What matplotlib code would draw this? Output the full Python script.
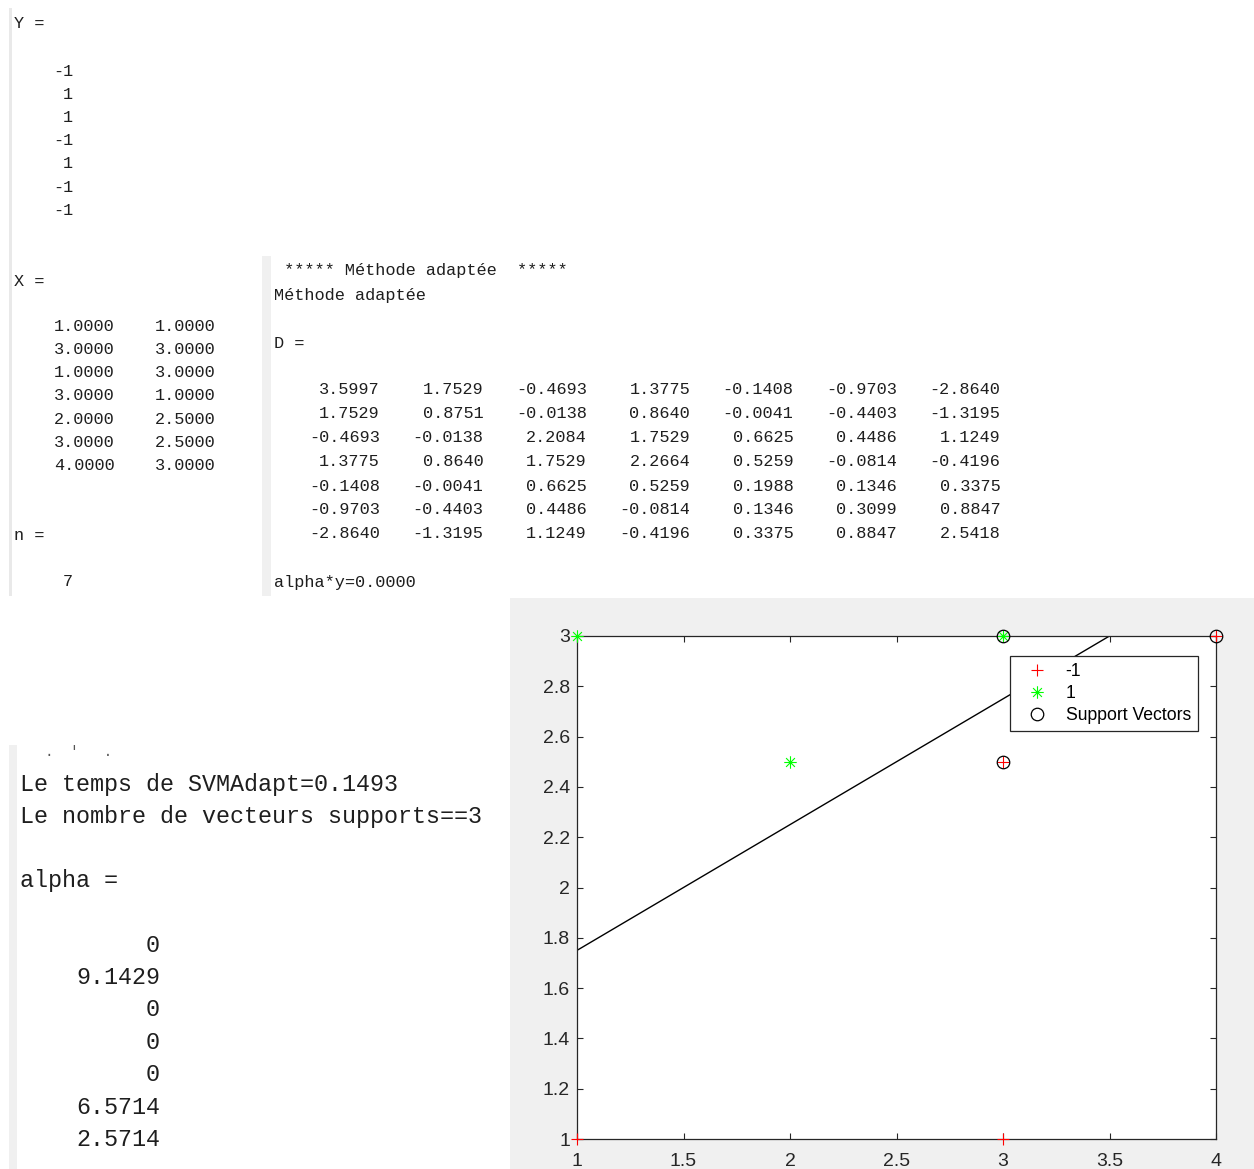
import matplotlib
matplotlib.use("Agg")
import matplotlib.pyplot as plt
from matplotlib.patches import Rectangle
from matplotlib.path import Path
from matplotlib.ticker import FuncFormatter
import numpy as np

# ---------------- data ----------------
Y_labels = [-1, 1, 1, -1, 1, -1, -1]
X1 = [1.0, 3.0, 1.0, 3.0, 2.0, 3.0, 4.0]
X2 = [1.0, 3.0, 3.0, 1.0, 2.5, 2.5, 3.0]
n_points = 7
D = [
    [3.5997, 1.7529, -0.4693, 1.3775, -0.1408, -0.9703, -2.8640],
    [1.7529, 0.8751, -0.0138, 0.8640, -0.0041, -0.4403, -1.3195],
    [-0.4693, -0.0138, 2.2084, 1.7529, 0.6625, 0.4486, 1.1249],
    [1.3775, 0.8640, 1.7529, 2.2664, 0.5259, -0.0814, -0.4196],
    [-0.1408, -0.0041, 0.6625, 0.5259, 0.1988, 0.1346, 0.3375],
    [-0.9703, -0.4403, 0.4486, -0.0814, 0.1346, 0.3099, 0.8847],
    [-2.8640, -1.3195, 1.1249, -0.4196, 0.3375, 0.8847, 2.5418],
]
alpha = [0, 9.1429, 0, 0, 0, 6.5714, 2.5714]
alpha_y = 0.0
svm_time = 0.1493
n_support = 3
boundary_x = [1.0, 4.0]
boundary_y = [1.75, 3.25]
x_ticks = [1, 1.5, 2, 2.5, 3, 3.5, 4]
y_ticks = [1, 1.2, 1.4, 1.6, 1.8, 2, 2.2, 2.4, 2.6, 2.8, 3]
legend_labels = ["-1", "1", "Support Vectors"]

# ---------------- figure ----------------
W, H, DPI = 1254, 1169, 100
fig = plt.figure(figsize=(W / DPI, H / DPI), dpi=DPI)
fig.patch.set_facecolor("white")

def fx(x):
    return x / W

def fy(y):
    return 1 - y / H

def rect(x0, y0, x1, y1, color):
    fig.add_artist(Rectangle((fx(x0), fy(y1)), (x1 - x0) / W, (y1 - y0) / H,
                             transform=fig.transFigure, facecolor=color,
                             edgecolor="none", zorder=0))

MONO = "Liberation Mono"
TXT = "#1e1e1e"
S_SMALL = 12.2
S_BIG = 16.8

def t(x, y, s, size=S_SMALL, ha="left", color=TXT):
    fig.text(fx(x), fy(y), s, fontsize=size, family=MONO, ha=ha,
             va="center", color=color)

# background panels
rect(510, 598, W, H, "#f0f0f0")
rect(9, 8, 12, 596, "#e9e9e9")
rect(262, 256, 271, 596, "#f0f0f0")
rect(9, 745, 17, H, "#f0f0f0")

# Y =
t(14, 24, "Y =")
for i, v in enumerate(Y_labels):
    t(73, 71 + i * 23.2, f"{v:d}", ha="right")

# X =
t(14, 281, "X =")
for i, (a, b) in enumerate(zip(X1, X2)):
    t(115, 326 + i * 23.3, f"{a:.4f}", ha="right")
    t(216, 326 + i * 23.3, f"{b:.4f}", ha="right")

# n =
t(14, 536, "n =")
t(73, 582, f"{n_points:d}", ha="right")

# right panel
t(274, 271, " ***** Méthode adaptée  *****")
t(274, 295, "Méthode adaptée")
t(274, 343, "D =")
for i, row in enumerate(D):
    for j, v in enumerate(row):
        t(380 + j * 103.4, 390 + i * 24.0, f"{v:.4f}", ha="right")
t(274, 582, f"alpha*y={alpha_y:.4f}")

# bottom-left console (remnant of a clipped line, then output)
t(20, 752, "   .  '   .", size=10, color="#555555")
t(20, 784, f"Le temps de SVMAdapt={svm_time:.4f}", size=S_BIG)
t(20, 817, f"Le nombre de vecteurs supports=={n_support:d}", size=S_BIG)
t(20, 881, "alpha =", size=S_BIG)
for i, v in enumerate(alpha):
    s = "0" if v == 0 else f"{v:.4f}"
    t(160, 945 + i * 32.4, s, size=S_BIG, ha="right")

# ---------------- plot ----------------
ax = fig.add_axes([fx(577), fy(1139), (1216 - 577) / W, (1139 - 636) / H])
ax.set_facecolor("white")

Y_arr = np.array(Y_labels)
X1a = np.array(X1)
X2a = np.array(X2)
neg = Y_arr == -1
pos = Y_arr == 1
sv = np.array(alpha) > 0

ast_path = Path(
    [(-1, 0), (1, 0), (0, -1), (0, 1),
     (-0.707, -0.707), (0.707, 0.707), (-0.707, 0.707), (0.707, -0.707)],
    [Path.MOVETO, Path.LINETO] * 4,
)

ax.plot(X1a[neg], X2a[neg], linestyle="none", marker="+", color="#ff0000",
        markersize=9, markeredgewidth=0.8, label=legend_labels[0], clip_on=False,
        zorder=5)
ax.plot(X1a[pos], X2a[pos], linestyle="none", marker=ast_path, color="#00ff00",
        markerfacecolor="none", markersize=9, markeredgewidth=0.8,
        label=legend_labels[1], clip_on=False, zorder=5)
ax.plot(X1a[sv], X2a[sv], linestyle="none", marker="o", markerfacecolor="none",
        markeredgecolor="black", markersize=9, markeredgewidth=0.9,
        label=legend_labels[2], clip_on=False, zorder=6)
ax.plot(boundary_x, boundary_y, color="black", linewidth=1.0, zorder=2)

ax.set_xlim(1, 4)
ax.set_ylim(1, 3)
ax.set_xticks(x_ticks)
ax.set_yticks(y_ticks)
fmt = FuncFormatter(lambda v, p: f"{v:g}")
ax.xaxis.set_major_formatter(fmt)
ax.yaxis.set_major_formatter(fmt)

SP = "#262626"
for s in ax.spines.values():
    s.set_color(SP)
    s.set_linewidth(0.9)
ax.tick_params(direction="in", length=4, width=0.8, top=True, right=True,
               colors=SP, labelsize=14)
ax.tick_params(axis="x", pad=10)
ax.tick_params(axis="y", pad=5)
for lab in ax.get_xticklabels() + ax.get_yticklabels():
    lab.set_family("Liberation Sans")

leg = ax.legend(loc="upper left", bbox_to_anchor=(fx(1010), fy(656)),
                bbox_transform=fig.transFigure, borderaxespad=0,
                fancybox=False, framealpha=1, edgecolor=SP,
                prop={"family": "Liberation Sans", "size": 12.7},
                borderpad=0.4, handlelength=2.25, handletextpad=0.5,
                labelspacing=0.28)
leg.set_zorder(10)
leg.get_frame().set_linewidth(0.9)

fig.savefig("out.png", dpi=DPI)
